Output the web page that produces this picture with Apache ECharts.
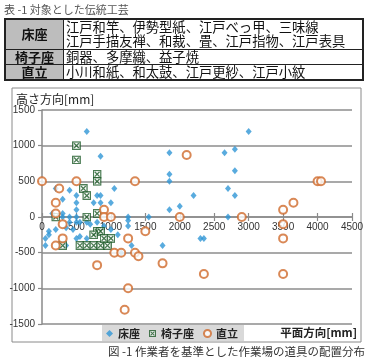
<!DOCTYPE html>
<html><head><meta charset="utf-8">
<script src="https://cdn.jsdelivr.net/npm/echarts@6/dist/echarts.min.js"></script>
<style>
html,body{margin:0;padding:0;background:#fff;width:370px;height:360px;overflow:hidden;font-family:"Noto Sans CJK JP","Noto Sans",sans-serif;}
#chart{position:absolute;left:0;top:0;width:370px;height:360px;}
#cap1{position:absolute;left:4px;top:1px;font-size:11px;color:#555;white-space:nowrap;}
#tbl{position:absolute;left:4px;top:18px;width:360px;border-collapse:collapse;border:2px solid #222;}
#tbl td{border:1.5px solid #222;padding:0;font-size:13.3px;line-height:14px;color:#111;}
#tbl td.h{width:57px;background:#bdbdbd;text-align:center;font-weight:bold;font-size:13px;}
#tbl td.v{padding-left:2px;}
#cap2{position:absolute;right:5px;top:343px;font-size:11.5px;color:#333;white-space:nowrap;}
</style></head>
<body>
<div id="chart"></div>
<div id="cap1">表 -1 対象とした伝統工芸</div>
<table id="tbl">
<tr style="height:30px"><td class="h">床座</td><td class="v">江戸和竿、伊勢型紙、江戸べっ甲、三味線<br>江戸手描友禅、和裁、畳、江戸指物、江戸表具</td></tr>
<tr style="height:15px"><td class="h">椅子座</td><td class="v">銅器、多摩織、益子焼</td></tr>
<tr style="height:15px"><td class="h">直立</td><td class="v">小川和紙、和太鼓、江戸更紗、江戸小紋</td></tr>
</table>
<div id="cap2">図 -1 作業者を基準とした作業場の道具の配置分布</div>
<script>
// ---- data ----
const seriesNames = ['床座', '椅子座', '直立'];
const xTicks = { min: 0, max: 4500, step: 500 };
const yTicks = { min: -1500, max: 1500, step: 500 };
const yukazaPoints = [
 [650,1200],[850,850],[200,400],[400,375],[1050,400],[300,250],[500,300],[500,200],[500,100],
 [750,200],[800,300],[850,300],[850,200],[1000,200],[300,50],[150,50],[300,0],[400,0],[500,0],
 [1250,0],[1550,0],[1850,900],[1850,600],[1850,500],[1850,100],[2000,150],[2200,300],[2650,900],
 [2800,950],[3000,1200],[2800,650],[2700,400],[2800,300],[2700,0],[2300,-300],[2350,-300],
 [1250,-50],[1250,-125],[1100,-250],[1300,-400],[1750,-400],[1150,-500],[1000,-175],[900,-125],
 [800,-75],[50,-300],[50,-400],[350,-400],[100,-200],[200,-175],[350,-150],[450,-175],[400,-75],
 [500,-75],[550,-75],[650,-75],[700,-100],[500,-300],[550,-275],[650,-300],[100,-250]
];
const isuzaPoints = [
 [500,1000],[500,800],[600,400],[650,300],[800,600],[800,500],[800,50],[650,0],[200,0],
 [300,-400],[550,-400],[650,-400],[750,-400],[850,-400],[950,-400],[800,-200],[850,-200],
 [900,-300],[1000,-300],[750,-250]
];
const chokuritsuPoints = [
 [0,500],[500,500],[250,400],[200,200],[200,50],[900,100],[900,0],[1000,0],[1350,500],
 [2100,870],[2000,0],[2900,0],[3500,100],[3650,200],[3500,-100],[4000,500],[4050,500],
 [3500,-300],[2350,-800],[3500,-800],[300,-100],[300,-300],[200,-400],[1250,-300],[1500,-200],
 [1050,-500],[1150,-500],[1350,-500],[1400,-550],[1750,-650],[800,-675],[1250,-1000],[1200,-1300]
];
const yAxisTitle = '高さ方向[mm]';
const xAxisTitle = '平面方向[mm]';

// ---- styles ----
const blue = '#2f96d6', green = '#1f5c2a', orange = '#cf6a2c', axisGray = '#8a8a8a';
const chairSvg = "<svg xmlns='http://www.w3.org/2000/svg' width='10' height='10'><rect x='0.8' y='0.8' width='8.4' height='8.4' fill='white' stroke='"+green+"' stroke-width='1.6'/><path d='M2.3 2.3L7.7 7.7M7.7 2.3L2.3 7.7' stroke='"+green+"' stroke-width='1.5'/></svg>";
const chairSymbol = 'image://data:image/svg+xml;charset=utf-8,' + encodeURIComponent(chairSvg);
const font = '"Noto Sans CJK JP","Noto Sans",sans-serif';
const numFont = '"Liberation Sans",Arial,sans-serif';
const plain = v => String(v);

// main plot grid + two half-grids whose shared edge is the y=0 line (used only for the x axis drawn at zero)
const G = { left: 42, top: 110, width: 310, height: 214 };
const zeroY = G.top + G.height * (yTicks.max / (yTicks.max - yTicks.min));
const hiddenY = gi => ({ type: 'value', gridIndex: gi, min: 0, max: 1, show: false, splitLine: { show: false } });
const xBase = gi => ({ type: 'value', gridIndex: gi, min: xTicks.min, max: xTicks.max, interval: xTicks.step, splitLine: { show: false } });

const chart = echarts.init(document.getElementById('chart'), null, {renderer:'canvas'});
chart.setOption({
  animation: false,
  backgroundColor: 'transparent',
  grid: [
    { left: G.left, top: G.top, width: G.width, height: G.height },
    { left: G.left, top: G.top, width: G.width, height: zeroY - G.top },
    { left: G.left, top: zeroY, width: G.width, height: G.top + G.height - zeroY }
  ],
  xAxis: [
    Object.assign(xBase(0), { axisLine: { show: false }, axisTick: { show: false }, axisLabel: { show: false } }),
    Object.assign(xBase(1), { position: 'bottom',
      axisLine: { show: true, onZero: false, lineStyle: { color: axisGray, width: 1.5 } },
      axisTick: { show: true, inside: true, length: 4, lineStyle: { color: axisGray, width: 1.2 } },
      axisLabel: { show: false } }),
    Object.assign(xBase(2), { position: 'top',
      axisLine: { show: false, onZero: false },
      axisTick: { show: true, inside: true, length: 4, lineStyle: { color: axisGray, width: 1.2 } },
      axisLabel: { show: true, inside: true, fontSize: 10, color: '#333', fontFamily: numFont, margin: 5, formatter: plain } })
  ],
  yAxis: [
    {
      type: 'value', gridIndex: 0, min: yTicks.min, max: yTicks.max, interval: yTicks.step,
      axisLine: { show: true, onZero: false, lineStyle: { color: axisGray, width: 1.5 } },
      axisTick: { show: true, length: 4, lineStyle: { color: axisGray, width: 1.2 } },
      axisLabel: { fontSize: 10, color: '#333', fontFamily: numFont, margin: 7, formatter: plain },
      splitLine: { show: true, lineStyle: { color: '#8c8c8c', width: 1.5 } }
    },
    hiddenY(1), hiddenY(2)
  ],
  legend: {
    left: 102, top: 325, orient: 'horizontal',
    backgroundColor: '#d9d9d9', padding: [3, 6, 2, 4], itemGap: 9,
    itemWidth: 7, itemHeight: 7,
    textStyle: { fontSize: 11, fontWeight: 'bold', color: '#222', fontFamily: font },
    data: [
      { name: seriesNames[0] },
      { name: seriesNames[1] },
      { name: seriesNames[2], itemStyle: { borderWidth: 1.2 } }
    ]
  },
  graphic: [
    { type: 'rect', shape: { x: 12, y: 88, width: 349, height: 254 }, style: { fill: 'none', stroke: axisGray, lineWidth: 1 }, z: -1 },
    { type: 'text', left: 16, top: 93, style: { text: yAxisTitle, fontSize: 12, fill: '#222', fontFamily: font } },
    { type: 'text', right: 13, top: 327, style: { text: xAxisTitle, fontSize: 11.5, fontWeight: 'bold', fill: '#222', fontFamily: font } }
  ],
  series: [
    { name: seriesNames[0], type: 'scatter', xAxisIndex: 0, yAxisIndex: 0, data: yukazaPoints, symbol: 'diamond', symbolSize: [6, 7],
      itemStyle: { color: blue } },
    { name: seriesNames[1], type: 'scatter', xAxisIndex: 0, yAxisIndex: 0, data: isuzaPoints, symbol: chairSymbol, symbolSize: [9, 9] },
    { name: seriesNames[2], type: 'scatter', xAxisIndex: 0, yAxisIndex: 0, data: chokuritsuPoints, symbol: 'emptyCircle', symbolSize: 8,
      itemStyle: { color: orange, borderColor: orange, borderWidth: 1.5 } }
  ]
});
</script>
</body></html>
